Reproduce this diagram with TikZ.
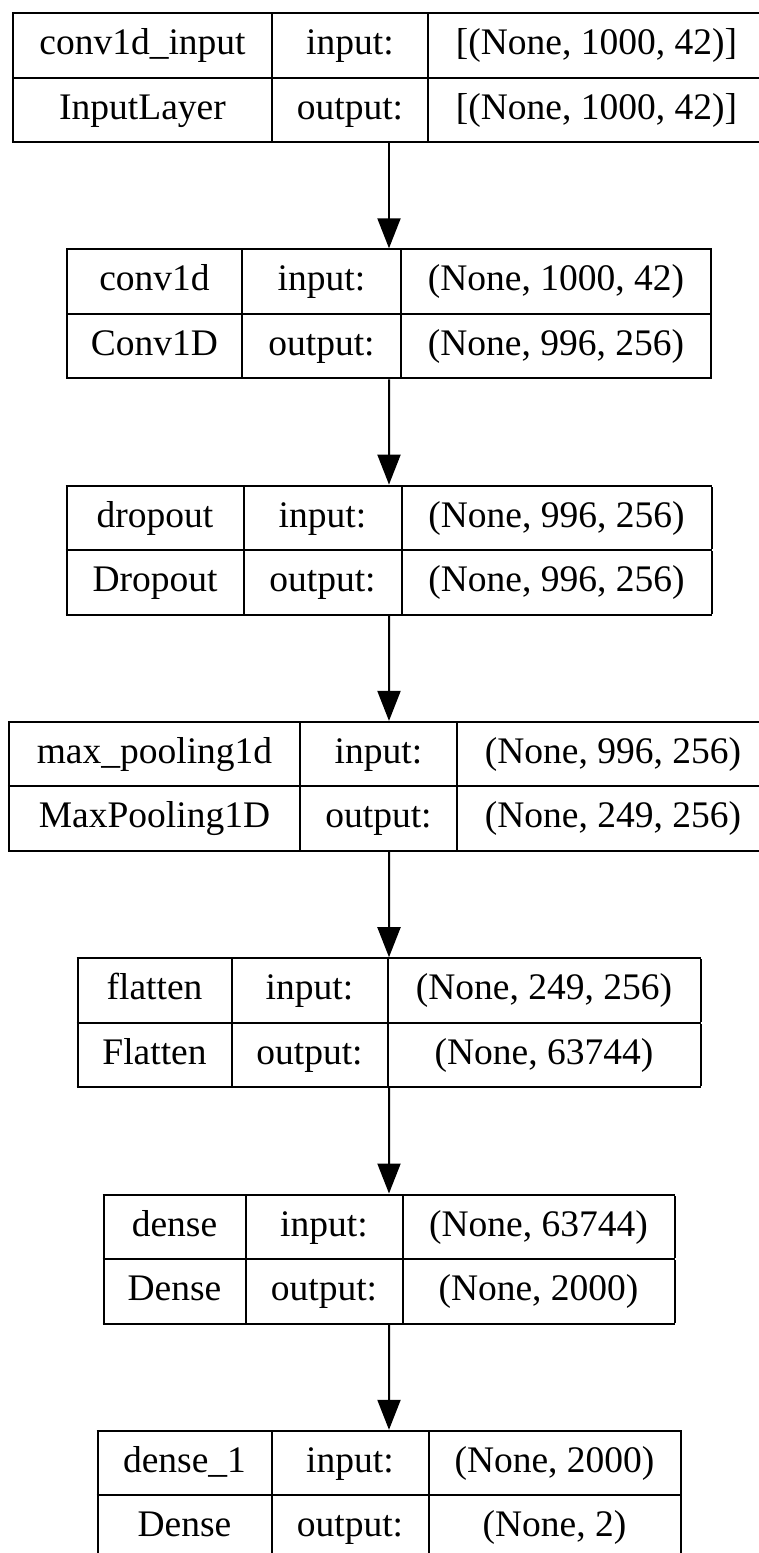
\documentclass[tikz,border=0pt]{standalone}
\usepackage{fontspec}
\setmainfont{LiberationSerif}[Extension=.ttf, UprightFont=*-Regular, BoldFont=*-Bold]
\usepackage{array}
\usetikzlibrary{arrows.meta}
\newcolumntype{C}[1]{>{\centering\arraybackslash}p{#1}}
\newcommand{\rowstrut}{\rule[-22pt]{0pt}{62.5pt}}
% one keras layer: three column widths, name, class, input and output shapes
\newcommand{\kerasrows}[7]{%
  \setlength{\tabcolsep}{0pt}\setlength{\arrayrulewidth}{2pt}%
  \begin{tabular}{|C{#1pt}|C{#2pt}|C{#3pt}|}\hline
    \rowstrut #4 & input: & #6\\\hline
    \rowstrut #5 & output: & #7\\\hline
  \end{tabular}}
\tikzset{
  layer/.style = {rectangle, inner sep=0pt, outer sep=0pt,
    font=\rmfamily\fontsize{37.5pt}{45pt}\selectfont}
}

\begin{document}
\begin{tikzpicture}[
        x=1pt, y=1pt,
        -{Triangle[length=30pt,width=23pt]},
        line width=2pt,
        level/.style={level distance = 236.3pt}
    ]
    \useasboundingbox (0,0) rectangle (758,-1553);
    \node [layer] (inp) at (389,-77.5)
        {\kerasrows{257}{154}{335}{conv1d\_input}{InputLayer}{[(None, 1000, 42)]}{[(None, 1000, 42)]}}
        child{ node [layer] (conv) {\kerasrows{173}{157}{308}{conv1d}{Conv1D}{(None, 1000, 42)}{(None, 996, 256)}}
            child{ node [layer] (drop) {\kerasrows{175}{156}{308}{dropout}{Dropout}{(None, 996, 256)}{(None, 996, 256)}}
                child{ node [layer] (pool) {\kerasrows{289}{155}{310}{max\_pooling1d}{MaxPooling1D}{(None, 996, 256)}{(None, 249, 256)}}
                    child{ node [layer] (flat) {\kerasrows{152}{154}{311}{flatten}{Flatten}{(None, 249, 256)}{(None, 63744)}}
                        child{ node [layer] (dense) {\kerasrows{140}{155}{270}{dense}{Dense}{(None, 63744)}{(None, 2000)}}
                            child{ node [layer] (out) {\kerasrows{172}{155}{250}{dense\_1}{Dense}{(None, 2000)}{(None, 2)}}
                            }
                        }
                    }
                }
            }
        }
    ;
\end{tikzpicture}
\end{document}
